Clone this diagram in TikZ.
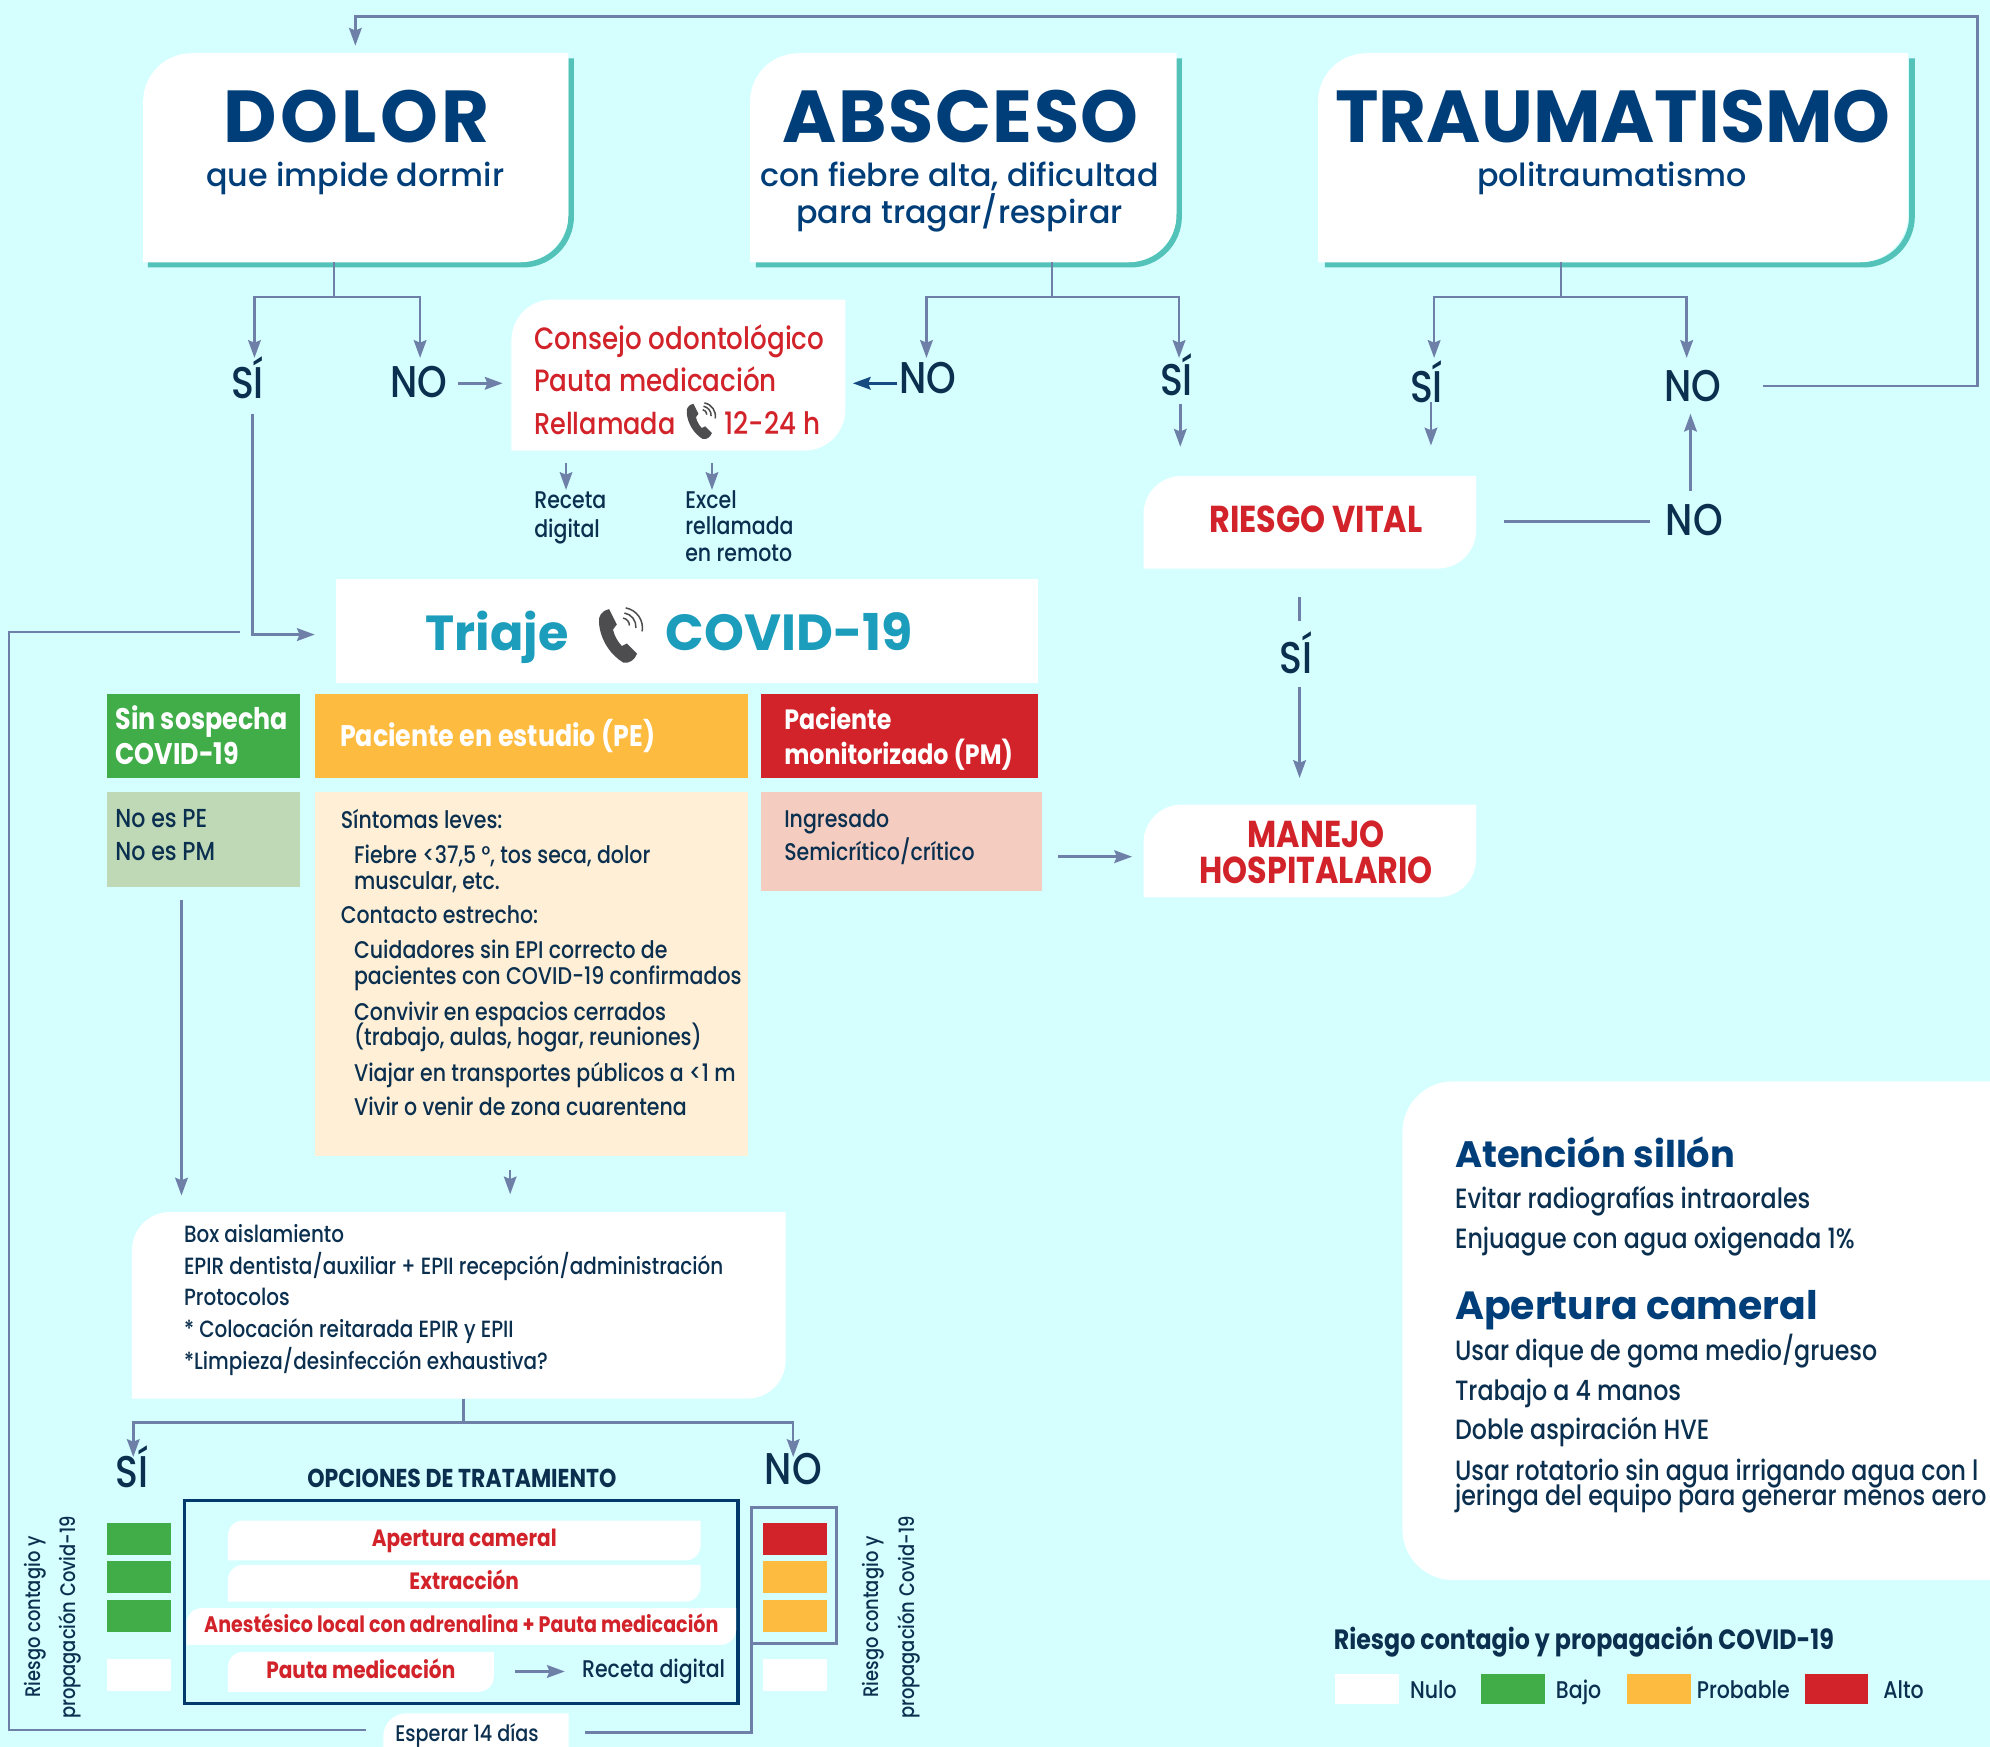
\documentclass[tikz,border=0pt]{standalone}
\usepackage{fontspec}
\usetikzlibrary{arrows.meta}
\setmainfont{Poppins}
\newfontfamily\futura[FakeStretch=0.85,BoldFont={Poppins Bold}]{Poppins Medium}
\newfontfamily\gothbook{Poppins Medium}
\definecolor{cyanbg}{HTML}{D5FEFF}
\definecolor{linkblue}{HTML}{6E80A8}
\definecolor{tealedge}{HTML}{53C2B8}
\definecolor{navy}{HTML}{003E79}
\definecolor{inkblue}{HTML}{0B2F4F}
\definecolor{alertred}{HTML}{D2232A}
\definecolor{lowgreen}{HTML}{40AD49}
\definecolor{midorange}{HTML}{FDBB40}
\definecolor{triajeblue}{HTML}{1B9DBB}
\definecolor{palegreen}{HTML}{BFD9B6}
\definecolor{palecream}{HTML}{FFEFD6}
\definecolor{palepink}{HTML}{F4CDC0}
\definecolor{phonegrey}{HTML}{4D4D4F}
\tikzset{phone/.pic={
  \fill[phonegrey] (-10,-21) .. controls (-16,-20) and (-19,-15) .. (-18,-10)
    .. controls (-17,3) and (-9,15) .. (1,21) .. controls (6,22) and (10,19) .. (12,14)
    -- (4,6) -- (0,8) .. controls (-3,5) and (-6,0) .. (-7,-5) -- (-4,-9) -- cycle;
  \draw[phonegrey,line width=1.2] (1,-14) arc [radius=6, start angle=-80, end angle=0];
  \draw[phonegrey,line width=1.2] (2,-18) arc [radius=11, start angle=-80, end angle=5];
  \draw[phonegrey,line width=1.2] (3,-22) arc [radius=16, start angle=-80, end angle=10];
}}
\begin{document}
\begin{tikzpicture}[x=1pt,y=-1pt]
  \tikzstyle{flow}=[draw=linkblue,line width=2,-{Stealth[length=14,width=10,inset=2]}]
  \tikzstyle{link}=[draw=linkblue,line width=2]
  \tikzstyle{accent}=[draw=tealedge,line width=4.5,rounded corners=38]
  \tikzstyle{flat}=[inner sep=0,outer sep=0]
  \tikzstyle{leaf}[30]=[flat,path picture={
    \fill[white] (path picture bounding box.south west) [rounded corners=#1]
      -- (path picture bounding box.north west) [sharp corners]
      -- (path picture bounding box.north east) [rounded corners=#1]
      -- (path picture bounding box.south east) [sharp corners] -- cycle;}]
  \tikzstyle{tab}[18]=[flat,path picture={
    \fill[white] (path picture bounding box.south west) [rounded corners=#1]
      -- (path picture bounding box.north west) [sharp corners]
      -- (path picture bounding box.north east)
      -- (path picture bounding box.south east) -- cycle;}]
  \tikzstyle{answer}=[flat,text=inkblue,font=\futura\fontsize{35}{35}\selectfont]
  \tikzstyle{bigword}=[flat,anchor=base,text=navy,font=\bfseries\fontsize{58}{58}\selectfont]
  \tikzstyle{subword}=[flat,anchor=base,text=navy,font=\gothbook\fontsize{25}{25}\selectfont]
  \tikzstyle{small}=[flat,anchor=base west,text=inkblue,font=\futura\fontsize{19}{19}\selectfont]
  \tikzstyle{redline}=[flat,anchor=base west,text=alertred,font=\futura\fontsize{24.3}{24.3}\selectfont]
  \tikzstyle{redbold}=[flat,text=alertred,font=\futura\bfseries\fontsize{29.5}{29.5}\selectfont]
  \tikzstyle{optbold}=[text=alertred,text height=13.5,text depth=3.5,font=\futura\bfseries\fontsize{18.6}{18.6}\selectfont]
  \tikzstyle{whitebold}=[flat,anchor=base west,text=white,font=\futura\bfseries\fontsize{23.5}{23.5}\selectfont]
  \tikzstyle{panelhead}=[flat,anchor=base west,text=navy,font=\bfseries\fontsize{30}{30}\selectfont]
  \tikzstyle{panelline}=[flat,anchor=base west,text=inkblue,font=\futura\fontsize{22}{22}\selectfont]
  \tikzstyle{sideline}=[flat,rotate=90,text=inkblue,font=\futura\fontsize{16.6}{16.6}\selectfont]

  % Page
  \clip (0,0) rectangle (1568,1376.5);
  \fill[cyanbg] (0,0) rectangle (1568,1376.5);

  % Teal edges behind the three top boxes
  \draw[accent] (116.6,208.5) -- (450,208.5) -- (450,46);
  \draw[accent] (595.5,208.5) -- (929,208.5) -- (929,46);
  \draw[accent] (1044,208.5) -- (1506.5,208.5) -- (1506.5,46);

  % Top boxes
  \node (dolor) at (280.3,124.3) [leaf=38,minimum width=335,minimum height=164.7] {};
  \node (absceso) at (759,124.3) [leaf=38,minimum width=336,minimum height=164.7] {};
  \node (trauma) at (1271,124.3) [leaf=38,minimum width=465,minimum height=164.7] {};
  \node (dolorword) at (281,112.5) [bigword] {\addfontfeature{LetterSpace=4.4}DOLOR};
  \node (doloralso) at (280,147) [subword] {que impide dormir};
  \node (abscesoword) at (757,112.5) [bigword] {\addfontfeature{LetterSpace=2}ABSCESO};
  \node (abscesoalso) at (756,147) [subword] {con fiebre alta, dificultad};
  \node (abscesomore) at (756,176) [subword] {para tragar/respirar};
  \node (traumaword) at (1271,112.5) [bigword] {TRAUMATISMO};
  \node (traumaalso) at (1270,147) [subword] {politraumatismo};

  % Advice box
  \node (consejo) at (534.5,295.5) [leaf=32,minimum width=263,minimum height=119] {};
  \node (consejo1) at (421,275) [redline] {Consejo odontológico};
  \node (consejo2) at (421,308.5) [redline] {Pauta medicación};
  \node (consejo3) at (421,342) [redline,font=\futura\fontsize{23.7}{23.7}\selectfont] {Rellamada};
  \node (consejo4) at (571,342) [redline] {12-24 h};
  \pic at (553,332) [scale=0.66] {phone};
  \node (receta1) at (421,400.5) [small] {Receta};
  \node (receta2) at (421,423.5) [small] {digital};
  \node (excel1) at (540,400.5) [small] {Excel};
  \node (excel2) at (540,421.5) [small] {rellamada};
  \node (excel3) at (540,442.5) [small] {en remoto};

  % Answers under the top boxes
  \node (sidolor) at (195,298) [answer] {SÍ};
  \node (nodolor) at (330,301) [answer] {NO};
  \node (noabsceso) at (731,298) [answer] {NO};
  \node (siabsceso) at (927,295) [answer] {SÍ};
  \node (sitrauma) at (1124,301) [answer] {SÍ};
  \node (notrauma) at (1334,304) [answer] {NO};
  \node (novital) at (1335,409.5) [answer] {NO};
  \node (sivital) at (1021,514) [answer] {SÍ};

  % Forks
  \coordinate (forkdolor) at (263,234);
  \coordinate (forkdolorl) at (200.5,234);
  \coordinate (forkdolorr) at (331,234);
  \coordinate (forkabs) at (829,234);
  \coordinate (forkabsl) at (730,234);
  \coordinate (forkabsr) at (929,234);
  \coordinate (forktra) at (1230,234);
  \coordinate (forktral) at (1130,234);
  \coordinate (forktrar) at (1329,234);
  \draw[link] (forkdolor |- dolor.south) -- (forkdolor);
  \draw[flow] (forkdolor) -- (forkdolorl) -- (200.5,282);
  \draw[flow] (forkdolor) -- (forkdolorr) -- (331,282);
  \draw[link] (forkabs |- absceso.south) -- (forkabs);
  \draw[flow] (forkabs) -- (forkabsl) -- (730,282);
  \draw[flow] (forkabs) -- (forkabsr) -- (929,282);
  \draw[link] (forktra |- trauma.south) -- (forktra);
  \draw[flow] (forktra) -- (forktral) -- (1130,282);
  \draw[flow] (forktra) -- (forktrar) -- (1329,282);

  % Short arrows round the advice box
  \draw[flow] (361,302) -- (396,302);
  \draw[flow,draw=navy!80!linkblue] (707,302) -- (672,302);
  \draw[flow,line width=1.6] (446,365) -- (446,386);
  \draw[flow,line width=1.6] (561,365) -- (561,386);

  % Risk boxes
  \node (vital) at (1032,411.5) [leaf=30,minimum width=262,minimum height=73] {};
  \node (vitalword) at (1037,409) [redbold] {RIESGO VITAL};
  \node (manejo) at (1032,670.5) [leaf=30,minimum width=262,minimum height=73] {};
  \node (manejo1) at (1037,657) [redbold] {MANEJO};
  \node (manejo2) at (1037,686) [redbold] {HOSPITALARIO};
  \draw[flow] (930,318) -- (930,352);
  \draw[flow] (1127.5,317) -- (1127.5,351);
  \draw[flow] (1332,387) -- (1332,326);
  \draw[link] (1185,411) -- (1300,411);
  \draw[link] (1024,470) -- (1024,489);
  \draw[flow] (1024,541) -- (1024,613);

  % Back to the start
  \draw[flow] (1389,304) -- (1558,304) -- (1558,13) -- (280,13) -- (280,36);

  % Triage title
  \node (triaje) at (541.5,497) [flat,fill=white,minimum width=553,minimum height=82] {};
  \node (triajeword) at (391.5,512.5) [flat,anchor=base,text=triajeblue,font=\bfseries\fontsize{38.8}{38.8}\selectfont] {Triaje};
  \node (covidword) at (622,512.5) [flat,anchor=base,text=triajeblue,font=\bfseries\fontsize{40}{40}\selectfont] {COVID-19};
  \pic at (490,501) {phone};
  \draw[flow] (199,326) -- (199,500) -- (248,500);

  % Three columns
  \node (sinhead) at (84,547) [flat,anchor=north west,fill=lowgreen,minimum width=152,minimum height=66] {};
  \node (pehead) at (248,547) [flat,anchor=north west,fill=midorange,minimum width=341,minimum height=66] {};
  \node (pmhead) at (600,547) [flat,anchor=north west,fill=alertred,minimum width=218,minimum height=66] {};
  \node (sinbody) at (84,624) [flat,anchor=north west,fill=palegreen,minimum width=152,minimum height=75] {};
  \node (pebody) at (248,624) [flat,anchor=north west,fill=palecream,minimum width=341,minimum height=287] {};
  \node (pmbody) at (600,624) [flat,anchor=north west,fill=palepink,minimum width=221,minimum height=78] {};
  \node (sinhead1) at (91,575) [whitebold] {Sin sospecha};
  \node (sinhead2) at (91,602.5) [whitebold] {COVID-19};
  \node (pehead1) at (268,588) [whitebold] {Paciente en estudio (PE)};
  \node (pmhead1) at (618,575) [whitebold,font=\futura\bfseries\fontsize{22}{22}\selectfont] {Paciente};
  \node (pmhead2) at (618,602.5) [whitebold,font=\futura\bfseries\fontsize{22}{22}\selectfont] {monitorizado (PM)};
  \node (sin1) at (91,652.4) [small,font=\futura\fontsize{20.5}{20.5}\selectfont] {No es PE};
  \node (sin2) at (91,677.7) [small,font=\futura\fontsize{20.5}{20.5}\selectfont] {No es PM};
  \node (pm1) at (618,652.4) [small] {Ingresado};
  \node (pm2) at (618,677.7) [small] {Semicrítico/crítico};
  \node (pe1) at (268.5,652.5) [small] {Síntomas leves:};
  \node (pe2) at (279,680.5) [small] {Fiebre <37,5 °, tos seca, dolor};
  \node (pe3) at (279,701) [small] {muscular, etc.};
  \node (pe4) at (268.5,728) [small] {Contacto estrecho:};
  \node (pe5) at (279,755.5) [small] {Cuidadores sin EPI correcto de};
  \node (pe6) at (279,775.6) [small] {pacientes con COVID-19 confirmados};
  \node (pe7) at (279,803.7) [small] {Convivir en espacios cerrados};
  \node (pe8) at (279,824) [small] {(trabajo, aulas, hogar, reuniones)};
  \node (pe9) at (279,852) [small] {Viajar en transportes públicos a <1 m};
  \node (pe10) at (279,879.3) [small] {Vivir o venir de zona cuarentena};
  \draw[flow] (834,675) -- (892,675);
  \draw[flow] (143,709) -- (143,942);
  \draw[flow,line width=1.6] (402,922) -- (402,941);

  % Isolation box
  \node (box) at (361.5,1028.5) [leaf=30,minimum width=515,minimum height=147] {};
  \node (box1) at (145,979) [small,font=\futura\fontsize{18.5}{18.5}\selectfont] {Box aislamiento};
  \node (box2) at (145,1004) [small,font=\futura\fontsize{18.5}{18.5}\selectfont] {EPIR dentista/auxiliar + EPII recepción/administración};
  \node (box3) at (145,1029) [small,font=\futura\fontsize{18.5}{18.5}\selectfont] {Protocolos};
  \node (box4) at (145,1054) [small,font=\futura\fontsize{18.5}{18.5}\selectfont] {* Colocación reitarada EPIR y EPII};
  \node (box5) at (145,1079) [small,font=\futura\fontsize{18.5}{18.5}\selectfont] {*Limpieza/desinfección exhaustiva?};
  \coordinate (forkbox) at (365,1121);
  \coordinate (forkboxl) at (105,1121);
  \coordinate (forkboxr) at (625,1121);
  \draw[link] (forkbox |- box.south) -- (forkbox);
  \draw[flow] (forkbox) -- (forkboxl) -- (105,1148);
  \draw[flow] (forkbox) -- (forkboxr) -- (625,1148);
  \node (sibox) at (104,1156) [answer] {SÍ};
  \node (nobox) at (625,1157.5) [answer] {NO};

  % Treatment options
  \node (optitle) at (364,1165) [flat,text=inkblue,font=\futura\bfseries\fontsize{20.4}{20.4}\selectfont] {OPCIONES DE TRATAMIENTO};
  \node (options) at (363.3,1262.3) [flat,draw=navy!70!inkblue,line width=2.5,minimum width=436.5,minimum height=160] {};
  \node (op1) at (365.8,1213.8) [leaf=12,minimum width=372.5,minimum height=31.5,optbold] {Apertura cameral};
  \node (op2) at (365.8,1247.5) [leaf=12,minimum width=372.5,minimum height=29,optbold] {Extracción};
  \node (op3) at (363.5,1281.5) [leaf=12,minimum width=433,minimum height=29,optbold,font=\futura\bfseries\fontsize{17.7}{17.7}\selectfont] {Anestésico local con adrenalina + Pauta medicación};
  \node (op4) at (284.3,1317.3) [leaf=12,minimum width=209.5,minimum height=31.5,optbold] {Pauta medicación};
  \node (op5) at (515,1322) [small,anchor=base] {Receta digital};
  \draw[flow] (406,1317) -- (445,1317);

  % Risk squares, left
  \node (lefta) at (84.5,1200) [flat,anchor=north west,fill=lowgreen,minimum width=50.5,minimum height=25.4] {};
  \node (leftb) at (84.5,1230) [flat,anchor=north west,fill=lowgreen,minimum width=50.5,minimum height=25.4] {};
  \node (leftc) at (84.5,1260.8) [flat,anchor=north west,fill=lowgreen,minimum width=50.5,minimum height=25.4] {};
  \node (leftd) at (84.5,1307) [flat,anchor=north west,fill=white,minimum width=50.5,minimum height=25.4] {};
  % Risk squares, right
  \node (righta) at (601,1200) [flat,anchor=north west,fill=alertred,minimum width=51,minimum height=25.4] {};
  \node (rightb) at (601,1230) [flat,anchor=north west,fill=midorange,minimum width=51,minimum height=25.4] {};
  \node (rightc) at (601,1260.8) [flat,anchor=north west,fill=midorange,minimum width=51,minimum height=25.4] {};
  \node (rightd) at (601,1307) [flat,anchor=north west,fill=white,minimum width=51,minimum height=25.4] {};
  \node (riskframe) at (625.5,1241.5) [flat,draw=linkblue,line width=2.5,minimum width=67,minimum height=107] {};
  \node (sidea1) at (28,1274) [sideline] {Riesgo contagio y};
  \node (sidea2) at (55,1274.5) [sideline] {propagación Covid-19};
  \node (sideb1) at (688,1274) [sideline] {Riesgo contagio y};
  \node (sideb2) at (716,1274.5) [sideline] {propagación Covid-19};

  % Waiting step
  \node (esperar) at (375,1363.25) [tab=18,minimum width=146,minimum height=26.5] {};
  \node (esperarword) at (368,1372.5) [small,anchor=base,font=\futura\fontsize{17.8}{17.8}\selectfont] {Esperar 14 días};
  \draw[link] (461,1365) -- (592,1365) -- (riskframe.south west);
  \draw[link] (288,1363) -- (7,1363) -- (7,498) -- (189,498);

  % Chair panel
  \node (panel) at (1105,852) [flat,anchor=north west,fill=white,rounded corners=40,minimum width=520,minimum height=393] {};
  \node (head1) at (1146.5,920) [panelhead,font=\bfseries\fontsize{29}{29}\selectfont] {Atención sillón};
  \node (line1) at (1146.5,952) [panelline] {Evitar radiografías intraorales};
  \node (line2) at (1146.5,984) [panelline] {Enjuague con agua oxigenada 1\%};
  \node (head2) at (1146.5,1040) [panelhead,font=\bfseries\fontsize{31}{31}\selectfont] {Apertura cameral};
  \node (line3) at (1146.5,1072) [panelline] {Usar dique de goma medio/grueso};
  \node (line4) at (1146.5,1103.5) [panelline] {Trabajo a 4 manos};
  \node (line5) at (1146.5,1134.5) [panelline] {Doble aspiración HVE};
  \node (line6) at (1146.5,1166.5) [panelline] {Usar rotatorio sin agua irrigando agua con l};
  \node (line7) at (1146.5,1186.5) [panelline] {jeringa del equipo para generar menos aero};

  % Legend
  \node (legendhead) at (1051,1299.5) [flat,anchor=base west,text=inkblue,font=\futura\bfseries\fontsize{22}{22}\selectfont] {Riesgo contagio y propagación COVID-19};
  \node (swatch1) at (1052,1319) [flat,anchor=north west,fill=white,minimum width=50,minimum height=24] {};
  \node (swatch2) at (1167,1319) [flat,anchor=north west,fill=lowgreen,minimum width=50,minimum height=24] {};
  \node (swatch3) at (1282,1319) [flat,anchor=north west,fill=midorange,minimum width=50,minimum height=24] {};
  \node (swatch4) at (1422,1319) [flat,anchor=north west,fill=alertred,minimum width=50,minimum height=24] {};
  \node (legend1) at (1111,1338) [small] {Nulo};
  \node (legend2) at (1226,1338) [small] {Bajo};
  \node (legend3) at (1337,1338) [small] {Probable};
  \node (legend4) at (1484,1338) [small] {Alto};
\end{tikzpicture}
\end{document}
